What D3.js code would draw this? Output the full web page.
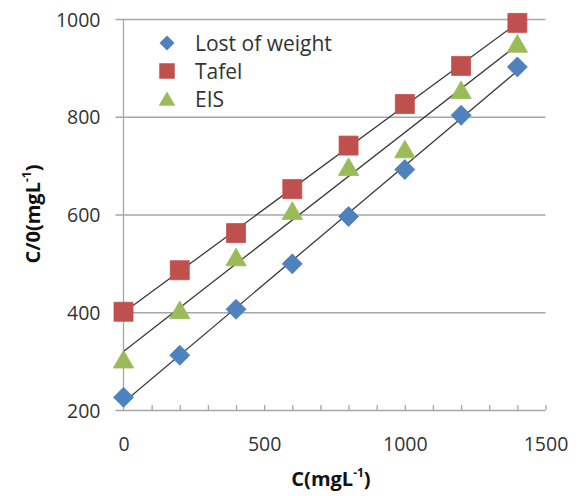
<!DOCTYPE html>
<html>
<head>
    <title>C/0 vs C</title>
    <script src="https://cdnjs.cloudflare.com/ajax/libs/d3/7.8.5/d3.min.js"></script>
    <style>
        body { margin: 0; background: #fff; }
        text { font-family: "Open Sans", sans-serif; }
        .tick text { font-size: 19.5px; fill: #333; }
        .title { font-size: 20px; font-weight: bold; fill: #111; }
        .legend text { font-size: 21px; fill: #333; }
    </style>
</head>
<body>
    <svg id="chart"></svg>

    <script>
        const width = 579;
        const height = 496;

        // data
        const concentrations = [0, 200, 400, 600, 800, 1000, 1200, 1400];
        const lostOfWeight = [226, 312, 406, 499, 596, 692, 803, 902];
        const tafel = [401, 486, 562, 652, 741, 826, 904, 992];
        const eis = [304, 405, 513, 608, 698, 734, 855, 950];
        const seriesNames = ["Lost of weight", "Tafel", "EIS"];
        const seriesColors = ["#4F81BD", "#C0504D", "#9BBB59"];
        const xTickLabels = [0, 500, 1000, 1500];
        const xMinorTicks = d3.range(100, 1501, 100);
        const yTickLabels = [200, 400, 600, 800, 1000];

        const svg = d3.select("#chart")
            .attr("width", width)
            .attr("height", height);

        const x = d3.scaleLinear().domain([0, 1500]).range([123.5, 545.5]);
        const y = d3.scaleLinear().domain([200, 1000]).range([410, 19]);

        // gridlines + y labels
        const yAxis = svg.append("g")
            .attr("transform", "translate(115.5,0)")
            .call(d3.axisLeft(y).tickValues(yTickLabels)
                .tickSize(-(x(1500) - 115.5))
                .tickPadding(15)
                .tickFormat(d3.format("d")));
        yAxis.select(".domain").remove();
        yAxis.selectAll(".tick line").attr("stroke", "#a6a6a6").attr("stroke-width", 1.3);
        yAxis.selectAll(".tick text").attr("dy", "0.36em");

        // y axis line
        svg.append("line")
            .attr("x1", x(0)).attr("x2", x(0))
            .attr("y1", y(1000)).attr("y2", y(200))
            .attr("stroke", "#a6a6a6").attr("stroke-width", 1.3);

        // x axis with small upward ticks
        const xAxis = svg.append("g")
            .attr("transform", `translate(0,${y(200)})`)
            .call(d3.axisBottom(x).tickValues(xMinorTicks).tickSize(-5).tickFormat(""));
        xAxis.select(".domain").remove();
        xAxis.selectAll(".tick line").attr("stroke", "#a6a6a6").attr("stroke-width", 1.3);

        const xLabels = svg.append("g")
            .attr("transform", `translate(0,${y(200)})`)
            .call(d3.axisBottom(x).tickValues(xTickLabels).tickSize(0).tickPadding(27)
                .tickFormat(d3.format("d")));
        xLabels.select(".domain").remove();

        // trendlines (least squares)
        const allSeries = [lostOfWeight, tafel, eis];
        function fit(xs, ys) {
            const mx = d3.mean(xs), my = d3.mean(ys);
            const b = d3.sum(xs, (v, i) => (v - mx) * (ys[i] - my)) / d3.sum(xs, v => (v - mx) * (v - mx));
            return { a: my - b * mx, b: b };
        }
        allSeries.forEach(ys => {
            const f = fit(concentrations, ys);
            const x0 = concentrations[0], x1 = concentrations[concentrations.length - 1];
            svg.append("line")
                .attr("x1", x(x0)).attr("y1", y(f.a + f.b * x0))
                .attr("x2", x(x1)).attr("y2", y(f.a + f.b * x1))
                .attr("stroke", "#3a3a3a").attr("stroke-width", 1.3);
        });

        // markers
        const diamond = d3.symbol().type(d3.symbolSquare).size(200)();
        const square = d3.symbol().type(d3.symbolSquare).size(361)();
        const triangle = d3.symbol().type(d3.symbolTriangle).size(180)();
        const triShift = Math.sqrt(180 * 4 / Math.sqrt(3)) * Math.sqrt(3) / 2 / 6;

        function drawMarkers(ys, shape, color, extra) {
            svg.append("g").selectAll("path")
                .data(ys)
                .join("path")
                .attr("d", shape)
                .attr("fill", color)
                .attr("stroke", color)
                .attr("stroke-width", 0.8)
                .attr("transform", (d, i) => `translate(${x(concentrations[i])},${y(d) + (extra.dy || 0)})` + (extra.rot ? " rotate(45)" : ""));
        }
        drawMarkers(eis, triangle, seriesColors[2], { dy: triShift });
        drawMarkers(lostOfWeight, diamond, seriesColors[0], { rot: true });
        drawMarkers(tafel, square, seriesColors[1], {});

        // legend
        const legend = svg.append("g").attr("class", "legend");
        const legendShapes = [
            d3.symbol().type(d3.symbolSquare).size(112)(),
            d3.symbol().type(d3.symbolSquare).size(240)(),
            d3.symbol().type(d3.symbolTriangle).size(120)()
        ];
        seriesNames.forEach((name, i) => {
            const cy = 43 + i * 28;
            legend.append("path")
                .attr("d", legendShapes[i])
                .attr("fill", seriesColors[i])
                .attr("transform", `translate(167,${cy + (i === 2 ? 2 : 0)})` + (i === 0 ? " rotate(45)" : ""));
            legend.append("text")
                .attr("x", 195).attr("y", cy + 7.5)
                .text(name);
        });

        // axis titles
        const xTitle = svg.append("text")
            .attr("class", "title")
            .attr("x", 331).attr("y", 486)
            .attr("text-anchor", "middle");
        xTitle.append("tspan").text("C(mgL");
        xTitle.append("tspan").attr("dy", -9).attr("font-size", 12).text("-1");
        xTitle.append("tspan").attr("dy", 9).text(")");

        const yTitle = svg.append("text")
            .attr("class", "title")
            .attr("transform", "translate(40,214) rotate(-90)")
            .attr("text-anchor", "middle");
        yTitle.append("tspan").text("C/0(mgL");
        yTitle.append("tspan").attr("dy", -9).attr("font-size", 12).text("-1");
        yTitle.append("tspan").attr("dy", 9).text(")");
    </script>
</body>
</html>
